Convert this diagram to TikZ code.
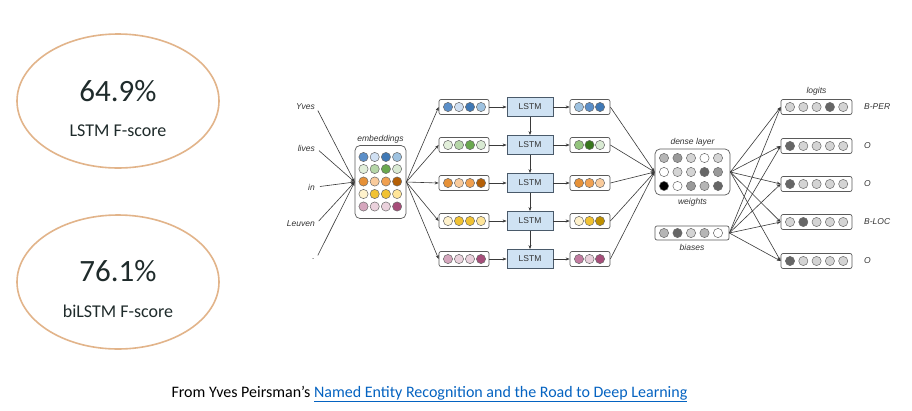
\documentclass[tikz,border=0pt]{standalone}
\usepackage{fontspec}
\setmainfont{Carlito}
\newfontfamily\diagfont{Liberation Sans}
\usepackage{xcolor}
\usepackage{tikz}
\usetikzlibrary{shapes.geometric, arrows.meta, positioning}
\definecolor{ovalcolor}{HTML}{E2B48A}
\definecolor{scoretext}{HTML}{1F2B2B}
\definecolor{linkblue}{HTML}{0563C1}
\definecolor{labelgray}{HTML}{333333}
\definecolor{boxline}{HTML}{5A5A5A}
\definecolor{lstmline}{HTML}{4A5A6A}
\definecolor{lstmfill}{HTML}{CFE2F3}
\definecolor{dotline}{HTML}{6A6A6A}
\definecolor{connline}{HTML}{3A3A3A}
% embedding colours
\definecolor{blueA}{HTML}{5B8FC9}
\definecolor{blueB}{HTML}{D0E0F3}
\definecolor{blueC}{HTML}{3F78B5}
\definecolor{blueD}{HTML}{9EC2E0}
\definecolor{greenA}{HTML}{E2EFDA}
\definecolor{greenB}{HTML}{B6D7A8}
\definecolor{greenC}{HTML}{6AA84F}
\definecolor{greenD}{HTML}{D9EAD3}
\definecolor{greenE}{HTML}{93C47D}
\definecolor{greenF}{HTML}{38761D}
\definecolor{orangeA}{HTML}{E69138}
\definecolor{orangeB}{HTML}{F9CB9C}
\definecolor{orangeC}{HTML}{F0A050}
\definecolor{orangeD}{HTML}{B45F06}
\definecolor{orangeE}{HTML}{FCE5CD}
\definecolor{yellowA}{HTML}{FFF2CC}
\definecolor{yellowB}{HTML}{F1C232}
\definecolor{yellowD}{HTML}{FFE599}
\definecolor{yellowE}{HTML}{BF9000}
\definecolor{pinkA}{HTML}{D5A6BD}
\definecolor{pinkB}{HTML}{EAD1DC}
\definecolor{pinkD}{HTML}{A64D79}
\definecolor{pinkE}{HTML}{C27BA0}
% greys for the dense layer
\definecolor{greyA}{HTML}{FFFFFF}
\definecolor{greyB}{HTML}{D4D4D4}
\definecolor{greyC}{HTML}{B5B5B5}
\definecolor{greyD}{HTML}{999999}
\definecolor{greyE}{HTML}{666666}
\definecolor{greyF}{HTML}{000000}

\tikzset{
  score oval/.style={draw=ovalcolor, line width=1.6pt, ellipse, minimum width=202pt, minimum height=134pt},
  score big/.style={text=scoretext, font=\fontsize{31}{34}\selectfont},
  score small/.style={text=scoretext, font=\fontsize{18}{21}\selectfont},
  tag/.style={font=\diagfont\itshape\fontsize{8.5}{9.5}\selectfont, text=labelgray, inner sep=1pt},
  vecbox/.style={draw=boxline, line width=0.7pt, rounded corners=2pt, fill=white, inner sep=0pt},
  lstmbox/.style={draw=lstmline, line width=0.8pt, fill=lstmfill, minimum width=46pt, minimum height=19pt,
    font=\diagfont\fontsize{8.5}{9.5}\selectfont, text=labelgray, inner sep=0pt},
  dot/.style={draw=dotline, line width=0.5pt},
  conn/.style={draw=connline, line width=0.6pt, -{Stealth[length=4pt, width=3pt]}},
}

% row of dots: x of first, y, spacing, colours
\newcommand{\dotrow}[4]{%
  \foreach \dotcol [count=\k from 0] in {#4} {\draw[dot, fill=\dotcol] ({#1+\k*#3}, #2) circle[radius=4.6pt];}}

\begin{document}
\begin{tikzpicture}[x=1pt, y=-1pt]
  \useasboundingbox[fill=white] (0,0) rectangle (912,410);

  % Scores
  \node[score oval] (lstmoval) at (118,101) {};
  \node[score big] (lstmval) at (118,91) {64.9\%};
  \node[score small] (lstmlab) at (118,131) {LSTM F-score};
  \node[score oval] (bioval) at (118,282) {};
  \node[score big] (bival) at (118,271) {76.1\%};
  \node[score small] (bilab) at (118,311) {biLSTM F-score};

  % Source
  \node[anchor=west, font=\fontsize{16}{18}\selectfont] (source) at (168,394)
    {From Yves Peirsman’s \textcolor{linkblue}{\underline{Named Entity Recognition and the Road to Deep Learning}}};

  % Words
  \node[tag, anchor=east] (wyves) at (316,107) {Yves};
  \node[tag, anchor=east] (wlives) at (316,148) {lives};
  \node[tag, anchor=east] (win) at (316,187) {in};
  \node[tag, anchor=east] (wleuven) at (316,224) {Leuven};
  \node[tag, anchor=east] (wdot) at (316,259) {.};

  % Embeddings
  \node[vecbox, rounded corners=5pt, minimum width=51pt, minimum height=73pt] (emb) at (380.5,182) {};
  \node[tag, above=1pt of emb] (embtag) {embeddings};
  \dotrow{363.5}{157}{11.2}{blueA,blueB,blueC,blueD}
  \dotrow{363.5}{169}{11.2}{greenA,greenB,greenC,greenD}
  \dotrow{363.5}{181.5}{11.2}{orangeA,orangeB,orangeC,orangeD}
  \dotrow{363.5}{194}{11.2}{yellowA,yellowB,yellowB,yellowD}
  \dotrow{363.5}{206.5}{11.2}{pinkA,pinkB,pinkB,pinkD}

  % Input vectors
  \node[vecbox, minimum width=50pt, minimum height=15pt] (in1) at (464,107) {};
  \node[vecbox, minimum width=50pt, minimum height=15pt] (in2) at (464,145) {};
  \node[vecbox, minimum width=50pt, minimum height=15pt] (in3) at (464,183) {};
  \node[vecbox, minimum width=50pt, minimum height=15pt] (in4) at (464,221) {};
  \node[vecbox, minimum width=50pt, minimum height=15pt] (in5) at (464,259) {};
  \dotrow{448}{107}{11}{blueA,blueB,blueC,blueD}
  \dotrow{448}{145}{11}{greenA,greenB,greenC,greenD}
  \dotrow{448}{183}{11}{orangeA,orangeB,orangeC,orangeD}
  \dotrow{448}{221}{11}{yellowA,yellowB,yellowB,yellowD}
  \dotrow{448}{259}{11}{pinkA,pinkB,pinkB,pinkD}

  % LSTM cells
  \node[lstmbox] (lstm1) at (530,107) {LSTM};
  \node[lstmbox] (lstm2) at (530,145) {LSTM};
  \node[lstmbox] (lstm3) at (530,183) {LSTM};
  \node[lstmbox] (lstm4) at (530,221) {LSTM};
  \node[lstmbox] (lstm5) at (530,259) {LSTM};

  % Output vectors
  \node[vecbox, minimum width=40pt, minimum height=15pt] (out1) at (590,107) {};
  \node[vecbox, minimum width=40pt, minimum height=15pt] (out2) at (590,145) {};
  \node[vecbox, minimum width=40pt, minimum height=15pt] (out3) at (590,183) {};
  \node[vecbox, minimum width=40pt, minimum height=15pt] (out4) at (590,221) {};
  \node[vecbox, minimum width=40pt, minimum height=15pt] (out5) at (590,259) {};
  \dotrow{579}{107}{10.5}{blueD,blueA,blueC}
  \dotrow{579}{145}{10.5}{greenE,greenF,greenD}
  \dotrow{579}{183}{10.5}{orangeA,orangeC,orangeB}
  \dotrow{579}{221}{10.5}{yellowA,yellowB,yellowE}
  \dotrow{579}{259}{10.5}{pinkE,pinkB,pinkD}

  % Dense layer and biases
  \node[vecbox, rounded corners=5pt, minimum width=75pt, minimum height=46pt] (dense) at (692.5,172) {};
  \node[tag, above=1pt of dense] (densetag) {dense layer};
  \node[tag, below=1.5pt of dense] (weighttag) {weights};
  \dotrow{664}{158}{13.5}{greyC,greyD,greyB,greyA,greyB}
  \dotrow{664}{172}{13.5}{greyA,greyB,greyB,greyE,greyD}
  \dotrow{664}{186}{13.5}{greyF,greyA,greyD,greyC,greyE}
  \node[vecbox, minimum width=74pt, minimum height=14pt] (bias) at (692,233) {};
  \node[tag, below=3pt of bias] (biastag) {biases};
  \dotrow{664}{233}{13.5}{greyC,greyE,greyB,greyC,greyA}

  % Logits
  \node[vecbox, minimum width=71pt, minimum height=15pt] (logit1) at (816.5,107) {};
  \node[vecbox, minimum width=71pt, minimum height=15pt] (logit2) at (816.5,146) {};
  \node[vecbox, minimum width=71pt, minimum height=15pt] (logit3) at (816.5,184) {};
  \node[vecbox, minimum width=71pt, minimum height=15pt] (logit4) at (816.5,222) {};
  \node[vecbox, minimum width=71pt, minimum height=15pt] (logit5) at (816.5,261) {};
  \node[tag, above=3pt of logit1] (logittag) {logits};
  \dotrow{790}{107}{13.3}{greyB,greyB,greyB,greyE,greyB}
  \dotrow{790}{146}{13.3}{greyE,greyB,greyB,greyB,greyB}
  \dotrow{790}{184}{13.3}{greyE,greyB,greyB,greyB,greyB}
  \dotrow{790}{222}{13.3}{greyB,greyE,greyB,greyB,greyB}
  \dotrow{790}{261}{13.3}{greyE,greyB,greyB,greyB,greyB}

  % Tags
  \node[tag, anchor=west] (tag1) at (863,107) {B-PER};
  \node[tag, anchor=west] (tag2) at (863,146) {O};
  \node[tag, anchor=west] (tag3) at (863,184) {O};
  \node[tag, anchor=west] (tag4) at (863,222) {B-LOC};
  \node[tag, anchor=west] (tag5) at (863,261) {O};

  % Connections
  \foreach \w in {wyves, wlives, win, wleuven, wdot}
    \draw[conn, shorten <=4pt] (\w.east) -- (emb.west);
  \foreach \i in {1,...,5} {
    \draw[conn] (emb.east) -- (in\i.west);
    \draw[conn] (in\i.east) -- (lstm\i.west);
    \draw[conn] (lstm\i.east) -- (out\i.west);
    \draw[conn] (out\i.east) -- (dense.west);
    \draw[conn] (dense.east) -- (logit\i.west);
    \draw[conn] (bias.east) -- (logit\i.west);
  }
  \foreach \i [evaluate=\i as \j using int(\i+1)] in {1,...,4}
    \draw[conn] (lstm\i.south) -- (lstm\j.north);
\end{tikzpicture}
\end{document}
